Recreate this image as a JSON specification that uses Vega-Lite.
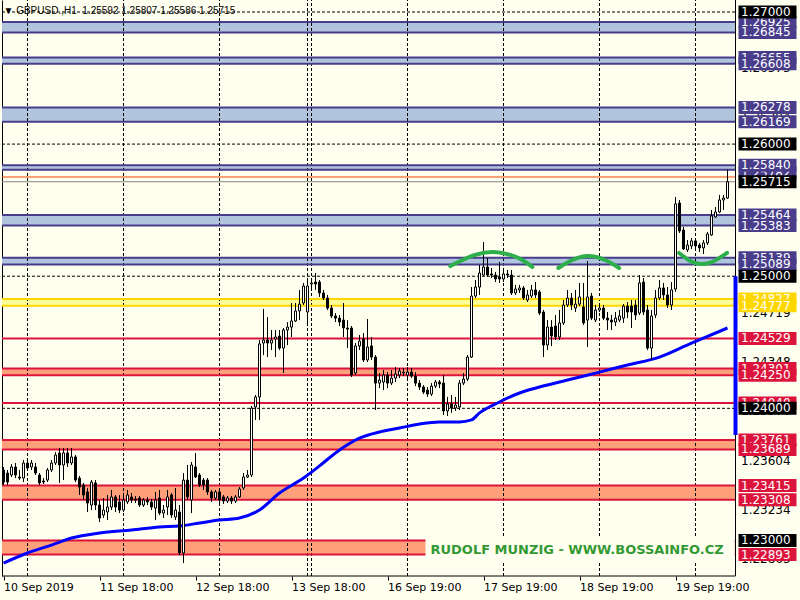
{
"$schema": "https://vega.github.io/schema/vega-lite/v6.json",
"width": 798, "height": 576,
"autosize": "none",
"padding": {"left": 2, "top": 0, "right": 0, "bottom": 24},
"background": "#FFFFF0",
"config": {"view": {"stroke": null}, "font": "DejaVu Sans"},
"resolve": {"axis": {"x": "independent", "y": "independent"}},
"datasets": {
"c": [
{"i":0,"o":1.23533,"h":1.23556,"l":1.23420,"c":1.23442},
{"i":1,"o":1.23510,"h":1.23533,"l":1.23420,"c":1.23442},
{"i":2,"o":1.23495,"h":1.23578,"l":1.23480,"c":1.23556},
{"i":3,"o":1.23556,"h":1.23586,"l":1.23472,"c":1.23495},
{"i":4,"o":1.23480,"h":1.23533,"l":1.23457,"c":1.23472},
{"i":5,"o":1.23472,"h":1.23609,"l":1.23442,"c":1.23586},
{"i":6,"o":1.23586,"h":1.23624,"l":1.23533,"c":1.23548},
{"i":7,"o":1.23556,"h":1.23609,"l":1.23533,"c":1.23586},
{"i":8,"o":1.23556,"h":1.23586,"l":1.23495,"c":1.23510},
{"i":9,"o":1.23495,"h":1.23510,"l":1.23420,"c":1.23435},
{"i":10,"o":1.23450,"h":1.23472,"l":1.23427,"c":1.23442},
{"i":11,"o":1.23457,"h":1.23548,"l":1.23442,"c":1.23533},
{"i":12,"o":1.23533,"h":1.23609,"l":1.23518,"c":1.23586},
{"i":13,"o":1.23586,"h":1.23669,"l":1.23571,"c":1.23647},
{"i":14,"o":1.23662,"h":1.23700,"l":1.23435,"c":1.23571},
{"i":15,"o":1.23571,"h":1.23700,"l":1.23457,"c":1.23662},
{"i":16,"o":1.23662,"h":1.23700,"l":1.23556,"c":1.23586},
{"i":17,"o":1.23586,"h":1.23700,"l":1.23571,"c":1.23632},
{"i":18,"o":1.23632,"h":1.23647,"l":1.23442,"c":1.23457},
{"i":19,"o":1.23472,"h":1.23488,"l":1.23344,"c":1.23404},
{"i":20,"o":1.23420,"h":1.23435,"l":1.23306,"c":1.23344},
{"i":21,"o":1.23367,"h":1.23397,"l":1.23215,"c":1.23283},
{"i":22,"o":1.23268,"h":1.23457,"l":1.23230,"c":1.23442},
{"i":23,"o":1.23435,"h":1.23457,"l":1.23230,"c":1.23268},
{"i":24,"o":1.23268,"h":1.23306,"l":1.23139,"c":1.23170},
{"i":25,"o":1.23192,"h":1.23321,"l":1.23170,"c":1.23230},
{"i":26,"o":1.23215,"h":1.23344,"l":1.23154,"c":1.23253},
{"i":27,"o":1.23253,"h":1.23382,"l":1.23230,"c":1.23329},
{"i":28,"o":1.23329,"h":1.23344,"l":1.23215,"c":1.23253},
{"i":29,"o":1.23291,"h":1.23344,"l":1.23207,"c":1.23230},
{"i":30,"o":1.23230,"h":1.23351,"l":1.23215,"c":1.23306},
{"i":31,"o":1.23291,"h":1.23382,"l":1.23276,"c":1.23344},
{"i":32,"o":1.23329,"h":1.23359,"l":1.23283,"c":1.23306},
{"i":33,"o":1.23314,"h":1.23336,"l":1.23283,"c":1.23306},
{"i":34,"o":1.23321,"h":1.23336,"l":1.23253,"c":1.23268},
{"i":35,"o":1.23268,"h":1.23321,"l":1.23253,"c":1.23306},
{"i":36,"o":1.23306,"h":1.23329,"l":1.23268,"c":1.23291},
{"i":37,"o":1.23291,"h":1.23314,"l":1.23230,"c":1.23253},
{"i":38,"o":1.23245,"h":1.23367,"l":1.23154,"c":1.23306},
{"i":39,"o":1.23321,"h":1.23382,"l":1.23192,"c":1.23207},
{"i":40,"o":1.23207,"h":1.23268,"l":1.23170,"c":1.23230},
{"i":41,"o":1.23253,"h":1.23382,"l":1.23192,"c":1.23329},
{"i":42,"o":1.23344,"h":1.23359,"l":1.23170,"c":1.23192},
{"i":43,"o":1.23177,"h":1.23397,"l":1.23154,"c":1.23230},
{"i":44,"o":1.23215,"h":1.23268,"l":1.22890,"c":1.22905},
{"i":45,"o":1.22905,"h":1.23510,"l":1.22829,"c":1.23457},
{"i":46,"o":1.23457,"h":1.23571,"l":1.23306,"c":1.23329},
{"i":47,"o":1.23306,"h":1.23594,"l":1.23207,"c":1.23571},
{"i":48,"o":1.23556,"h":1.23662,"l":1.23472,"c":1.23480},
{"i":49,"o":1.23495,"h":1.23510,"l":1.23404,"c":1.23420},
{"i":50,"o":1.23457,"h":1.23472,"l":1.23382,"c":1.23420},
{"i":51,"o":1.23457,"h":1.23472,"l":1.23344,"c":1.23367},
{"i":52,"o":1.23367,"h":1.23382,"l":1.23291,"c":1.23321},
{"i":53,"o":1.23321,"h":1.23382,"l":1.23306,"c":1.23367},
{"i":54,"o":1.23367,"h":1.23382,"l":1.23283,"c":1.23306},
{"i":55,"o":1.23329,"h":1.23344,"l":1.23276,"c":1.23298},
{"i":56,"o":1.23298,"h":1.23336,"l":1.23283,"c":1.23321},
{"i":57,"o":1.23321,"h":1.23336,"l":1.23276,"c":1.23298},
{"i":58,"o":1.23298,"h":1.23344,"l":1.23283,"c":1.23329},
{"i":59,"o":1.23329,"h":1.23404,"l":1.23321,"c":1.23389},
{"i":60,"o":1.23397,"h":1.23510,"l":1.23382,"c":1.23480},
{"i":61,"o":1.23480,"h":1.23533,"l":1.23472,"c":1.23495},
{"i":62,"o":1.23495,"h":1.24018,"l":1.23480,"c":1.24002},
{"i":63,"o":1.24010,"h":1.24101,"l":1.23912,"c":1.24086},
{"i":64,"o":1.24086,"h":1.24517,"l":1.23912,"c":1.24487},
{"i":65,"o":1.24494,"h":1.24752,"l":1.24403,"c":1.24517},
{"i":66,"o":1.24517,"h":1.24691,"l":1.24388,"c":1.24494},
{"i":67,"o":1.24494,"h":1.24593,"l":1.24441,"c":1.24517},
{"i":68,"o":1.24525,"h":1.24593,"l":1.24388,"c":1.24540},
{"i":69,"o":1.24547,"h":1.24593,"l":1.24441,"c":1.24456},
{"i":70,"o":1.24456,"h":1.24608,"l":1.24267,"c":1.24593},
{"i":71,"o":1.24593,"h":1.24653,"l":1.24479,"c":1.24615},
{"i":72,"o":1.24615,"h":1.24797,"l":1.24540,"c":1.24661},
{"i":73,"o":1.24661,"h":1.24797,"l":1.24653,"c":1.24737},
{"i":74,"o":1.24737,"h":1.24896,"l":1.24668,"c":1.24789},
{"i":75,"o":1.24797,"h":1.24949,"l":1.24782,"c":1.24926},
{"i":76,"o":1.24729,"h":1.24971,"l":1.24646,"c":1.24926},
{"i":77,"o":1.24941,"h":1.24987,"l":1.24896,"c":1.24949},
{"i":78,"o":1.24956,"h":1.25024,"l":1.24896,"c":1.24941},
{"i":79,"o":1.24956,"h":1.24971,"l":1.24843,"c":1.24873},
{"i":80,"o":1.24873,"h":1.24896,"l":1.24820,"c":1.24835},
{"i":81,"o":1.24835,"h":1.24858,"l":1.24744,"c":1.24759},
{"i":82,"o":1.24759,"h":1.24782,"l":1.24683,"c":1.24699},
{"i":83,"o":1.24699,"h":1.24721,"l":1.24653,"c":1.24683},
{"i":84,"o":1.24683,"h":1.24706,"l":1.24623,"c":1.24653},
{"i":85,"o":1.24668,"h":1.24797,"l":1.24540,"c":1.24608},
{"i":86,"o":1.24608,"h":1.24668,"l":1.24456,"c":1.24600},
{"i":87,"o":1.24608,"h":1.24623,"l":1.24237,"c":1.24252},
{"i":88,"o":1.24267,"h":1.24494,"l":1.24252,"c":1.24472},
{"i":89,"o":1.24472,"h":1.24555,"l":1.24441,"c":1.24509},
{"i":90,"o":1.24525,"h":1.24570,"l":1.24350,"c":1.24366},
{"i":91,"o":1.24366,"h":1.24676,"l":1.24350,"c":1.24464},
{"i":92,"o":1.24472,"h":1.24540,"l":1.24366,"c":1.24388},
{"i":93,"o":1.24388,"h":1.24403,"l":1.23987,"c":1.24191},
{"i":94,"o":1.24191,"h":1.24267,"l":1.24153,"c":1.24214},
{"i":95,"o":1.24199,"h":1.24290,"l":1.24138,"c":1.24252},
{"i":96,"o":1.24252,"h":1.24274,"l":1.24153,"c":1.24191},
{"i":97,"o":1.24191,"h":1.24290,"l":1.24176,"c":1.24229},
{"i":98,"o":1.24229,"h":1.24312,"l":1.24199,"c":1.24259},
{"i":99,"o":1.24252,"h":1.24305,"l":1.24229,"c":1.24282},
{"i":100,"o":1.24267,"h":1.24305,"l":1.24244,"c":1.24274},
{"i":101,"o":1.24252,"h":1.24312,"l":1.24229,"c":1.24274},
{"i":102,"o":1.24274,"h":1.24305,"l":1.24229,"c":1.24244},
{"i":103,"o":1.24244,"h":1.24274,"l":1.24168,"c":1.24191},
{"i":104,"o":1.24191,"h":1.24214,"l":1.24138,"c":1.24161},
{"i":105,"o":1.24161,"h":1.24176,"l":1.24108,"c":1.24123},
{"i":106,"o":1.24138,"h":1.24161,"l":1.24086,"c":1.24108},
{"i":107,"o":1.24108,"h":1.24191,"l":1.24093,"c":1.24168},
{"i":108,"o":1.24168,"h":1.24214,"l":1.24153,"c":1.24199},
{"i":109,"o":1.24199,"h":1.24214,"l":1.24153,"c":1.24184},
{"i":110,"o":1.24191,"h":1.24252,"l":1.23949,"c":1.23980},
{"i":111,"o":1.23980,"h":1.24086,"l":1.23942,"c":1.24033},
{"i":112,"o":1.24033,"h":1.24101,"l":1.23965,"c":1.24002},
{"i":113,"o":1.24002,"h":1.24086,"l":1.23980,"c":1.24025},
{"i":114,"o":1.24010,"h":1.24214,"l":1.23987,"c":1.24191},
{"i":115,"o":1.24191,"h":1.24267,"l":1.24176,"c":1.24221},
{"i":116,"o":1.24221,"h":1.24403,"l":1.24206,"c":1.24388},
{"i":117,"o":1.24388,"h":1.24918,"l":1.24381,"c":1.24850},
{"i":118,"o":1.24850,"h":1.24971,"l":1.24835,"c":1.24918},
{"i":119,"o":1.24918,"h":1.25085,"l":1.24858,"c":1.25024},
{"i":120,"o":1.25009,"h":1.25259,"l":1.25002,"c":1.25070},
{"i":121,"o":1.25070,"h":1.25138,"l":1.24994,"c":1.25009},
{"i":122,"o":1.25017,"h":1.25062,"l":1.24987,"c":1.25009},
{"i":123,"o":1.25009,"h":1.25032,"l":1.24956,"c":1.24979},
{"i":124,"o":1.24994,"h":1.25108,"l":1.24949,"c":1.24979},
{"i":125,"o":1.24979,"h":1.25062,"l":1.24956,"c":1.25017},
{"i":126,"o":1.25017,"h":1.25047,"l":1.24987,"c":1.25009},
{"i":127,"o":1.25009,"h":1.25047,"l":1.24858,"c":1.24873},
{"i":128,"o":1.24873,"h":1.24934,"l":1.24858,"c":1.24903},
{"i":129,"o":1.24896,"h":1.24934,"l":1.24873,"c":1.24911},
{"i":130,"o":1.24911,"h":1.24926,"l":1.24820,"c":1.24835},
{"i":131,"o":1.24820,"h":1.24896,"l":1.24805,"c":1.24858},
{"i":132,"o":1.24850,"h":1.24934,"l":1.24835,"c":1.24896},
{"i":133,"o":1.24896,"h":1.24956,"l":1.24835,"c":1.24858},
{"i":134,"o":1.24881,"h":1.24896,"l":1.24706,"c":1.24721},
{"i":135,"o":1.24729,"h":1.24744,"l":1.24388,"c":1.24479},
{"i":136,"o":1.24479,"h":1.24668,"l":1.24441,"c":1.24615},
{"i":137,"o":1.24615,"h":1.24668,"l":1.24472,"c":1.24547},
{"i":138,"o":1.24623,"h":1.24706,"l":1.24517,"c":1.24540},
{"i":139,"o":1.24540,"h":1.24744,"l":1.24517,"c":1.24646},
{"i":140,"o":1.24646,"h":1.24820,"l":1.24631,"c":1.24782},
{"i":141,"o":1.24782,"h":1.24896,"l":1.24767,"c":1.24835},
{"i":142,"o":1.24835,"h":1.24873,"l":1.24744,"c":1.24782},
{"i":143,"o":1.24759,"h":1.24896,"l":1.24729,"c":1.24789},
{"i":144,"o":1.24789,"h":1.24949,"l":1.24774,"c":1.24843},
{"i":145,"o":1.24767,"h":1.24949,"l":1.24631,"c":1.24646},
{"i":146,"o":1.24668,"h":1.25115,"l":1.24464,"c":1.24843},
{"i":147,"o":1.24850,"h":1.24873,"l":1.24668,"c":1.24683},
{"i":148,"o":1.24668,"h":1.24782,"l":1.24653,"c":1.24744},
{"i":149,"o":1.24744,"h":1.24797,"l":1.24729,"c":1.24759},
{"i":150,"o":1.24759,"h":1.24782,"l":1.24668,"c":1.24683},
{"i":151,"o":1.24683,"h":1.24729,"l":1.24593,"c":1.24668},
{"i":152,"o":1.24668,"h":1.24706,"l":1.24593,"c":1.24653},
{"i":153,"o":1.24653,"h":1.24729,"l":1.24623,"c":1.24683},
{"i":154,"o":1.24668,"h":1.24744,"l":1.24653,"c":1.24699},
{"i":155,"o":1.24683,"h":1.24789,"l":1.24646,"c":1.24774},
{"i":156,"o":1.24774,"h":1.24805,"l":1.24683,"c":1.24729},
{"i":157,"o":1.24774,"h":1.24820,"l":1.24608,"c":1.24729},
{"i":158,"o":1.24782,"h":1.24820,"l":1.24668,"c":1.24706},
{"i":159,"o":1.24721,"h":1.25009,"l":1.24706,"c":1.24949},
{"i":160,"o":1.24956,"h":1.24987,"l":1.24706,"c":1.24729},
{"i":161,"o":1.24744,"h":1.24782,"l":1.24441,"c":1.24456},
{"i":162,"o":1.24456,"h":1.24744,"l":1.24366,"c":1.24699},
{"i":163,"o":1.24706,"h":1.24896,"l":1.24683,"c":1.24835},
{"i":164,"o":1.24835,"h":1.24971,"l":1.24820,"c":1.24911},
{"i":165,"o":1.24911,"h":1.24949,"l":1.24820,"c":1.24858},
{"i":166,"o":1.24858,"h":1.24918,"l":1.24759,"c":1.24782},
{"i":167,"o":1.24782,"h":1.24956,"l":1.24744,"c":1.24896},
{"i":168,"o":1.24903,"h":1.25600,"l":1.24881,"c":1.25547},
{"i":169,"o":1.25554,"h":1.25577,"l":1.25327,"c":1.25342},
{"i":170,"o":1.25350,"h":1.25373,"l":1.25199,"c":1.25206},
{"i":171,"o":1.25199,"h":1.25274,"l":1.25183,"c":1.25236},
{"i":172,"o":1.25229,"h":1.25289,"l":1.25206,"c":1.25267},
{"i":173,"o":1.25267,"h":1.25289,"l":1.25199,"c":1.25229},
{"i":174,"o":1.25236,"h":1.25252,"l":1.25183,"c":1.25214},
{"i":175,"o":1.25214,"h":1.25274,"l":1.25168,"c":1.25252},
{"i":176,"o":1.25252,"h":1.25335,"l":1.25236,"c":1.25320},
{"i":177,"o":1.25312,"h":1.25501,"l":1.25305,"c":1.25456},
{"i":178,"o":1.25448,"h":1.25524,"l":1.25441,"c":1.25486},
{"i":179,"o":1.25486,"h":1.25615,"l":1.25479,"c":1.25577},
{"i":180,"o":1.25577,"h":1.25615,"l":1.25501,"c":1.25592},
{"i":181,"o":1.25592,"h":1.25807,"l":1.25586,"c":1.25715}
],
"ma": [
{"i":0,"v":1.22829},{"i":6,"v":1.22905},{"i":12,"v":1.22965},{"i":17,"v":1.23018},{"i":24,"v":1.23056},{"i":32,"v":1.23079},{"i":39,"v":1.23102},{"i":44,"v":1.23109},{"i":49,"v":1.23132},{"i":54,"v":1.23154},{"i":59,"v":1.23170},{"i":64,"v":1.23230},{"i":69,"v":1.23359},{"i":75,"v":1.23472},{"i":79,"v":1.23564},{"i":84,"v":1.23685},{"i":89,"v":1.23775},{"i":94,"v":1.23821},{"i":99,"v":1.23851},{"i":104,"v":1.23881},{"i":109,"v":1.23897},{"i":114,"v":1.23897},{"i":117,"v":1.23912},{"i":119,"v":1.23965},{"i":124,"v":1.24048},{"i":129,"v":1.24116},{"i":134,"v":1.24161},{"i":141,"v":1.24214},{"i":149,"v":1.24274},{"i":156,"v":1.24328},{"i":164,"v":1.24388},{"i":172,"v":1.24494},{"i":181,"v":1.24608}
],
"arcs": [
{"a":1,"i":111.7,"p":1.25077},{"a":1,"i":114.2,"p":1.25115},{"a":1,"i":117.9,"p":1.25161},{"a":1,"i":122.4,"p":1.25183},{"a":1,"i":126.7,"p":1.25161},{"a":1,"i":129.7,"p":1.25123},{"a":1,"i":132.2,"p":1.25070},
{"a":2,"i":138.7,"p":1.25062},{"a":2,"i":141.7,"p":1.25115},{"a":2,"i":145.9,"p":1.25153},{"a":2,"i":150.4,"p":1.25123},{"a":2,"i":153.9,"p":1.25062},
{"a":3,"i":168.9,"p":1.25176},{"a":3,"i":171.7,"p":1.25115},{"a":3,"i":174.2,"p":1.25093},{"a":3,"i":177.2,"p":1.25108},{"a":3,"i":180.9,"p":1.25176}
],
"zones": [
{"top":1.26925,"bot":1.26845,"k":"blue"},
{"top":1.26655,"bot":1.26608,"k":"blue"},
{"top":1.26278,"bot":1.26169,"k":"blue"},
{"top":1.25840,"bot":1.25805,"k":"blue"},
{"top":1.25464,"bot":1.25383,"k":"blue"},
{"top":1.25139,"bot":1.25089,"k":"blue"},
{"top":1.24827,"bot":1.24777,"k":"yellow"},
{"top":1.24301,"bot":1.24250,"k":"red"},
{"top":1.23761,"bot":1.23689,"k":"red"},
{"top":1.23415,"bot":1.23308,"k":"red"},
{"top":1.23000,"bot":1.22893,"k":"red"}
],
"hlines": [
{"p":1.24529,"k":"red"},{"p":1.24040,"k":"red"},{"p":1.25751,"k":"orange"},{"p":1.25715,"k":"grey"}
],
"hgrid": [{"p":1.27},{"p":1.26},{"p":1.25},{"p":1.24},{"p":1.23}],
"vgrid": [{"i":6},{"i":30},{"i":54},{"i":76},{"i":77},{"i":101},{"i":125},{"i":149},{"i":173}],
"labels": [
{"t":"1.26946","p":1.26946,"k":"axis","lv":0},
{"t":"1.26575","p":1.26575,"k":"axis","lv":0},
{"t":"1.26204","p":1.26204,"k":"axis","lv":0},
{"t":"1.25833","p":1.25833,"k":"axis","lv":0},
{"t":"1.25461","p":1.25461,"k":"axis","lv":0},
{"t":"1.25090","p":1.25090,"k":"axis","lv":0},
{"t":"1.24719","p":1.24719,"k":"axis","lv":0},
{"t":"1.24348","p":1.24348,"k":"axis","lv":0},
{"t":"1.23976","p":1.23976,"k":"axis","lv":0},
{"t":"1.23604","p":1.23604,"k":"axis","lv":0},
{"t":"1.23234","p":1.23234,"k":"axis","lv":0},
{"t":"1.22863","p":1.22863,"k":"axis","lv":0},
{"t":"1.26925","p":1.26925,"k":"blue","lv":1},
{"t":"1.26655","p":1.26655,"k":"blue","lv":1},
{"t":"1.25782","p":1.25782,"k":"blue","lv":1},
{"t":"1.25139","p":1.25139,"k":"blue","lv":1},
{"t":"1.24827","p":1.24827,"k":"yellow","lv":1},
{"t":"1.24301","p":1.24301,"k":"red","lv":1},
{"t":"1.24040","p":1.24040,"k":"red","lv":1},
{"t":"1.23761","p":1.23761,"k":"red","lv":1},
{"t":"1.26845","p":1.26845,"k":"blue","lv":2},
{"t":"1.26608","p":1.26608,"k":"blue","lv":2},
{"t":"1.26278","p":1.26278,"k":"blue","lv":2},
{"t":"1.26169","p":1.26169,"k":"blue","lv":2},
{"t":"1.25840","p":1.25840,"k":"blue","lv":2},
{"t":"1.25464","p":1.25464,"k":"blue","lv":2},
{"t":"1.25383","p":1.25383,"k":"blue","lv":2},
{"t":"1.25089","p":1.25089,"k":"blue","lv":2},
{"t":"1.24777","p":1.24777,"k":"yellow","lv":2},
{"t":"1.24529","p":1.24529,"k":"red","lv":2},
{"t":"1.24250","p":1.24250,"k":"red","lv":2},
{"t":"1.23689","p":1.23689,"k":"red","lv":2},
{"t":"1.23415","p":1.23415,"k":"red","lv":2},
{"t":"1.23308","p":1.23308,"k":"red","lv":2},
{"t":"1.22893","p":1.22893,"k":"red","lv":2},
{"t":"1.27000","p":1.27000,"k":"black","lv":3},
{"t":"1.26000","p":1.26000,"k":"black","lv":3},
{"t":"1.25000","p":1.25000,"k":"black","lv":3},
{"t":"1.24000","p":1.24000,"k":"black","lv":3},
{"t":"1.23000","p":1.23000,"k":"black","lv":3},
{"t":"1.25715","p":1.25715,"k":"black","lv":3}
]
},
"layer": [
{
"data": {"name": "zones"},
"mark": {"type": "rect"},
"encoding": {
"x": {"datum": -0.375, "type": "quantitative", "scale": {"domain": [-0.375, 199.125], "nice": false, "zero": false, "padding": 0}, "axis": null},
"x2": {"datum": 183.0},
"y": {"field": "top", "type": "quantitative", "scale": {"domain": [1.227307, 1.270908], "nice": false, "zero": false, "padding": 0}, "axis": {"orient": "left", "labels": false, "ticks": false, "grid": false, "title": null, "domainColor": "#000000", "domainWidth": 1}},
"y2": {"field": "bot"},
"color": {"condition": [{"test": "datum.k == 'blue'", "value": "#B0C4DE"}, {"test": "datum.k == 'red'", "value": "#FFA07A"}], "value": "#FFFF99"}
}
},
{
"data": {"name": "hgrid"},
"mark": {"type": "rule", "strokeDash": [3, 2], "color": "#000000", "strokeWidth": 1},
"encoding": {
"x": {"datum": -0.375, "type": "quantitative", "scale": {"domain": [-0.375, 199.125], "nice": false, "zero": false, "padding": 0}, "axis": null},
"x2": {"datum": 183.0},
"y": {"field": "p", "type": "quantitative", "scale": {"domain": [1.227307, 1.270908], "nice": false, "zero": false, "padding": 0}, "axis": null}
}
},
{
"data": {"name": "vgrid"},
"mark": {"type": "rule", "strokeDash": [3, 2], "color": "#000000", "strokeWidth": 1},
"encoding": {
"x": {"field": "i", "type": "quantitative", "scale": {"domain": [-0.375, 199.125], "nice": false, "zero": false, "padding": 0}, "axis": null},
"y": {"datum": 1.227307, "type": "quantitative", "scale": {"domain": [1.227307, 1.270908], "nice": false, "zero": false, "padding": 0}, "axis": null},
"y2": {"datum": 1.270908}
}
},
{
"data": {"name": "zones"},
"transform": [{"fold": ["top", "bot"], "as": ["edge", "p"]}],
"mark": {"type": "rule", "strokeWidth": 2},
"encoding": {
"x": {"datum": -0.375, "type": "quantitative", "scale": {"domain": [-0.375, 199.125], "nice": false, "zero": false, "padding": 0}, "axis": null},
"x2": {"datum": 183.0},
"y": {"field": "p", "type": "quantitative", "scale": {"domain": [1.227307, 1.270908], "nice": false, "zero": false, "padding": 0}, "axis": null},
"color": {"condition": [{"test": "datum.k == 'blue'", "value": "#483D8B"}, {"test": "datum.k == 'red'", "value": "#DC143C"}], "value": "#FFD700"}
}
},
{
"data": {"name": "hlines"},
"mark": {"type": "rule"},
"encoding": {
"x": {"datum": -0.375, "type": "quantitative", "scale": {"domain": [-0.375, 199.125], "nice": false, "zero": false, "padding": 0}, "axis": null},
"x2": {"datum": 183.0},
"y": {"field": "p", "type": "quantitative", "scale": {"domain": [1.227307, 1.270908], "nice": false, "zero": false, "padding": 0}, "axis": null},
"color": {"condition": [{"test": "datum.k == 'red'", "value": "#DC143C"}, {"test": "datum.k == 'orange'", "value": "#FF4500"}], "value": "#808080"},
"strokeWidth": {"condition": {"test": "datum.k == 'red'", "value": 2}, "value": 1}
}
},
{
"data": {"name": "ma"},
"mark": {"type": "line", "color": "#0000FF", "strokeWidth": 3, "interpolate": "monotone"},
"encoding": {
"x": {"field": "i", "type": "quantitative", "scale": {"domain": [-0.375, 199.125], "nice": false, "zero": false, "padding": 0}, "axis": null},
"y": {"field": "v", "type": "quantitative", "scale": {"domain": [1.227307, 1.270908], "nice": false, "zero": false, "padding": 0}, "axis": null}
}
},
{
"data": {"name": "c"},
"mark": {"type": "rule", "color": "#000000", "strokeWidth": 1},
"encoding": {
"x": {"field": "i", "type": "quantitative", "scale": {"domain": [-0.375, 199.125], "nice": false, "zero": false, "padding": 0},
 "axis": {"orient": "bottom", "values": [0, 24, 48, 72, 96, 120, 144, 168], "labelExpr": "datum.value == 0 ? '10 Sep 2019' : datum.value == 24 ? '11 Sep 18:00' : datum.value == 48 ? '12 Sep 18:00' : datum.value == 72 ? '13 Sep 18:00' : datum.value == 96 ? '16 Sep 19:00' : datum.value == 120 ? '17 Sep 19:00' : datum.value == 144 ? '18 Sep 19:00' : '19 Sep 19:00'", "domain": false, "grid": false, "ticks": true, "tickSize": 4, "tickColor": "#000000", "labelAlign": "left", "labelBaseline": "top", "labelPadding": 1, "labelFont": "DejaVu Sans", "labelFontSize": 11, "labelColor": "#000000", "title": null, "labelOverlap": false, "labelFlush": false, "labelBound": false}},
"y": {"field": "l", "type": "quantitative", "scale": {"domain": [1.227307, 1.270908], "nice": false, "zero": false, "padding": 0}, "axis": null},
"y2": {"field": "h"}
}
},
{
"data": {"name": "c"},
"mark": {"type": "bar", "width": 2, "stroke": "#000000", "strokeWidth": 1},
"encoding": {
"x": {"field": "i", "type": "quantitative", "scale": {"domain": [-0.375, 199.125], "nice": false, "zero": false, "padding": 0}, "axis": null},
"y": {"field": "o", "type": "quantitative", "scale": {"domain": [1.227307, 1.270908], "nice": false, "zero": false, "padding": 0}, "axis": null},
"y2": {"field": "c"},
"fill": {"condition": {"test": "datum.c >= datum.o", "value": "#FFFFFF"}, "value": "#000000"}
}
},
{
"data": {"name": "arcs"},
"mark": {"type": "line", "color": "#2DAF4B", "strokeWidth": 4, "interpolate": "natural", "strokeCap": "round"},
"encoding": {
"x": {"field": "i", "type": "quantitative", "scale": {"domain": [-0.375, 199.125], "nice": false, "zero": false, "padding": 0}, "axis": null},
"y": {"field": "p", "type": "quantitative", "scale": {"domain": [1.227307, 1.270908], "nice": false, "zero": false, "padding": 0}, "axis": null},
"detail": {"field": "a", "type": "nominal"}
}
},
{
"data": {"values": [{}]},
"mark": {"type": "rect", "color": "#FFFFF0"},
"encoding": {
"x": {"datum": 105.5, "type": "quantitative", "scale": {"domain": [-0.375, 199.125], "nice": false, "zero": false, "padding": 0}, "axis": null},
"x2": {"datum": 182.8},
"y": {"datum": 1.230184, "type": "quantitative", "scale": {"domain": [1.227307, 1.270908], "nice": false, "zero": false, "padding": 0}, "axis": null},
"y2": {"datum": 1.228442}
}
},
{
"data": {"values": [{"t": "RUDOLF MUNZIG - WWW.BOSSAINFO.CZ"}]},
"mark": {"type": "text", "font": "DejaVu Sans", "fontSize": 13, "fontWeight": "bold", "color": "#339933", "align": "center", "baseline": "middle"},
"encoding": {
"x": {"datum": 143.4, "type": "quantitative", "scale": {"domain": [-0.375, 199.125], "nice": false, "zero": false, "padding": 0}, "axis": null},
"y": {"datum": 1.229275, "type": "quantitative", "scale": {"domain": [1.227307, 1.270908], "nice": false, "zero": false, "padding": 0}, "axis": null},
"text": {"field": "t"}
}
},
{
"data": {"values": [{}]},
"mark": {"type": "rule", "color": "#000000", "strokeWidth": 1},
"encoding": {
"x": {"datum": -0.375, "type": "quantitative", "scale": {"domain": [-0.375, 199.125], "nice": false, "zero": false, "padding": 0}, "axis": null},
"x2": {"datum": 183.0},
"y": {"datum": 1.227307, "type": "quantitative", "scale": {"domain": [1.227307, 1.270908], "nice": false, "zero": false, "padding": 0}, "axis": null}
}
},
{
"data": {"values": [{}]},
"mark": {"type": "rule", "color": "#000000", "strokeWidth": 1},
"encoding": {
"x": {"datum": 183.0, "type": "quantitative", "scale": {"domain": [-0.375, 199.125], "nice": false, "zero": false, "padding": 0}, "axis": null},
"y": {"datum": 1.227307, "type": "quantitative", "scale": {"domain": [1.227307, 1.270908], "nice": false, "zero": false, "padding": 0}, "axis": null},
"y2": {"datum": 1.270908}
}
},
{
"data": {"values": [{}]},
"mark": {"type": "rule", "color": "#0000FF", "strokeWidth": 4},
"encoding": {
"x": {"datum": 183.0, "type": "quantitative", "scale": {"domain": [-0.375, 199.125], "nice": false, "zero": false, "padding": 0}, "axis": null},
"y": {"datum": 1.25, "type": "quantitative", "scale": {"domain": [1.227307, 1.270908], "nice": false, "zero": false, "padding": 0}, "axis": null},
"y2": {"datum": 1.23798}
}
},
{
"data": {"name": "labels"},
"transform": [{"filter": "datum.lv == 0"}],
"mark": {"type": "text", "font": "DejaVu Sans", "fontSize": 12, "align": "left", "baseline": "middle", "color": "#000000"},
"encoding": {
"x": {"datum": 184.375, "type": "quantitative", "scale": {"domain": [-0.375, 199.125], "nice": false, "zero": false, "padding": 0}, "axis": null},
"y": {"field": "p", "type": "quantitative", "scale": {"domain": [1.227307, 1.270908], "nice": false, "zero": false, "padding": 0}, "axis": null},
"text": {"field": "t"}
}
},
{
"data": {"name": "labels"},
"transform": [{"filter": "datum.lv == 1"}],
"mark": {"type": "tick", "orient": "horizontal", "size": 58, "thickness": 13, "opacity": 1},
"encoding": {
"x": {"datum": 191.0, "type": "quantitative", "scale": {"domain": [-0.375, 199.125], "nice": false, "zero": false, "padding": 0}, "axis": null},
"y": {"field": "p", "type": "quantitative", "scale": {"domain": [1.227307, 1.270908], "nice": false, "zero": false, "padding": 0}, "axis": null},
"color": {"condition": [{"test": "datum.k == 'blue'", "value": "#483D8B"}, {"test": "datum.k == 'red'", "value": "#DC143C"}, {"test": "datum.k == 'yellow'", "value": "#FFD700"}], "value": "#000000"}
}
},
{
"data": {"name": "labels"},
"transform": [{"filter": "datum.lv == 1"}],
"mark": {"type": "text", "font": "DejaVu Sans", "fontSize": 12, "align": "left", "baseline": "middle", "color": "#FFFFFF"},
"encoding": {
"x": {"datum": 184.375, "type": "quantitative", "scale": {"domain": [-0.375, 199.125], "nice": false, "zero": false, "padding": 0}, "axis": null},
"y": {"field": "p", "type": "quantitative", "scale": {"domain": [1.227307, 1.270908], "nice": false, "zero": false, "padding": 0}, "axis": null},
"text": {"field": "t"}
}
},
{
"data": {"name": "labels"},
"transform": [{"filter": "datum.lv == 2"}],
"mark": {"type": "tick", "orient": "horizontal", "size": 58, "thickness": 13, "opacity": 1},
"encoding": {
"x": {"datum": 191.0, "type": "quantitative", "scale": {"domain": [-0.375, 199.125], "nice": false, "zero": false, "padding": 0}, "axis": null},
"y": {"field": "p", "type": "quantitative", "scale": {"domain": [1.227307, 1.270908], "nice": false, "zero": false, "padding": 0}, "axis": null},
"color": {"condition": [{"test": "datum.k == 'blue'", "value": "#483D8B"}, {"test": "datum.k == 'red'", "value": "#DC143C"}, {"test": "datum.k == 'yellow'", "value": "#FFD700"}], "value": "#000000"}
}
},
{
"data": {"name": "labels"},
"transform": [{"filter": "datum.lv == 2"}],
"mark": {"type": "text", "font": "DejaVu Sans", "fontSize": 12, "align": "left", "baseline": "middle", "color": "#FFFFFF"},
"encoding": {
"x": {"datum": 184.375, "type": "quantitative", "scale": {"domain": [-0.375, 199.125], "nice": false, "zero": false, "padding": 0}, "axis": null},
"y": {"field": "p", "type": "quantitative", "scale": {"domain": [1.227307, 1.270908], "nice": false, "zero": false, "padding": 0}, "axis": null},
"text": {"field": "t"}
}
},
{
"data": {"name": "labels"},
"transform": [{"filter": "datum.lv == 3"}],
"mark": {"type": "tick", "orient": "horizontal", "size": 58, "thickness": 13, "opacity": 1},
"encoding": {
"x": {"datum": 191.0, "type": "quantitative", "scale": {"domain": [-0.375, 199.125], "nice": false, "zero": false, "padding": 0}, "axis": null},
"y": {"field": "p", "type": "quantitative", "scale": {"domain": [1.227307, 1.270908], "nice": false, "zero": false, "padding": 0}, "axis": null},
"color": {"value": "#000000"}
}
},
{
"data": {"name": "labels"},
"transform": [{"filter": "datum.lv == 3"}],
"mark": {"type": "text", "font": "DejaVu Sans", "fontSize": 12, "align": "left", "baseline": "middle", "color": "#FFFFFF"},
"encoding": {
"x": {"datum": 184.375, "type": "quantitative", "scale": {"domain": [-0.375, 199.125], "nice": false, "zero": false, "padding": 0}, "axis": null},
"y": {"field": "p", "type": "quantitative", "scale": {"domain": [1.227307, 1.270908], "nice": false, "zero": false, "padding": 0}, "axis": null},
"text": {"field": "t"}
}
},
{
"data": {"values": [{"t": "▼ GBPUSD.,H1\u00a0\u00a01.25592 1.25807 1.25586 1.25715"}]},
"mark": {"type": "text", "font": "Liberation Sans", "fontSize": 10, "align": "left", "baseline": "middle", "color": "#000000"},
"encoding": {
"x": {"datum": 0.0, "type": "quantitative", "scale": {"domain": [-0.375, 199.125], "nice": false, "zero": false, "padding": 0}, "axis": null},
"y": {"datum": 1.270075, "type": "quantitative", "scale": {"domain": [1.227307, 1.270908], "nice": false, "zero": false, "padding": 0}, "axis": null},
"text": {"field": "t"}
}
}
]
}
